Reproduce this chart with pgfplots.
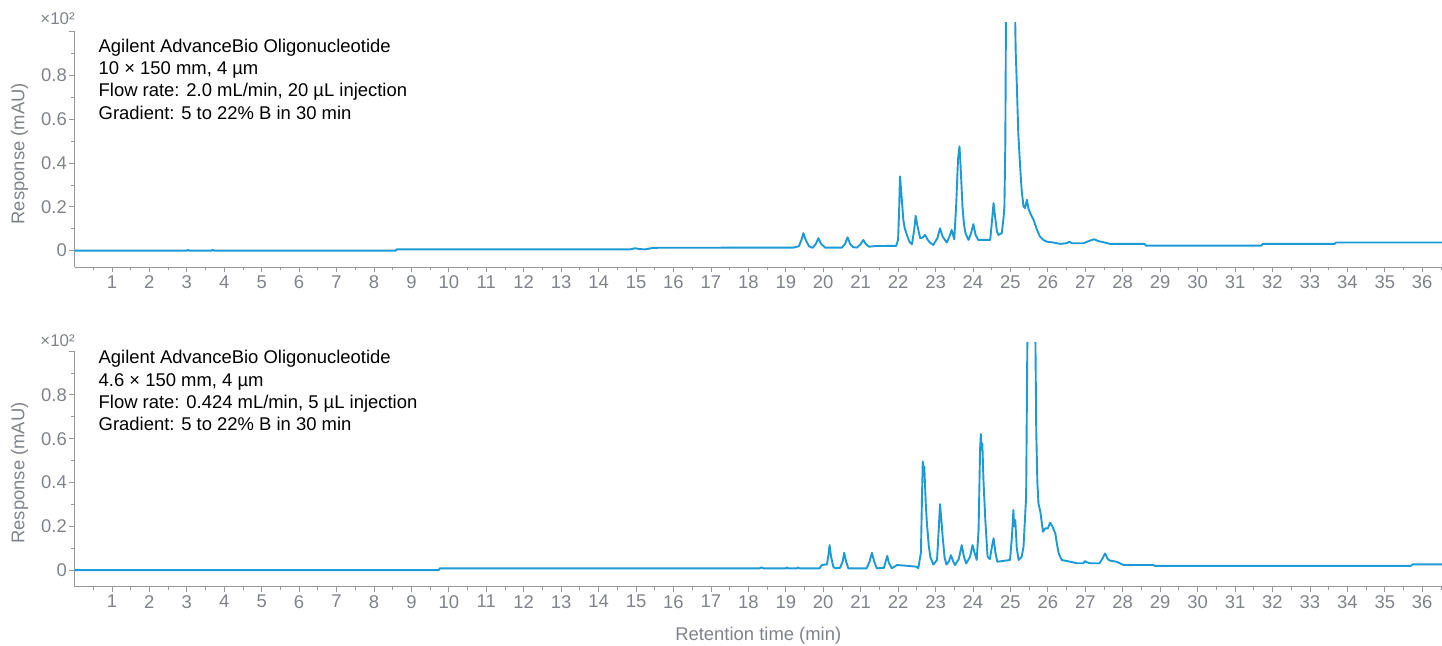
\documentclass[border=0pt]{standalone}
\usepackage{fontspec}
\setmainfont{Liberation Sans}
\usepackage{pgfplots}
\pgfplotsset{compat=1.18}
\definecolor{trace}{RGB}{27,154,214}
\definecolor{axgray}{RGB}{150,152,156}
\definecolor{txtgray}{RGB}{128,131,137}
\pgfplotsset{chrom/.style={
  scale only axis, width=1367.5bp, height=244.4bp,
  xmin=0, xmax=36.53, ymin=-0.076, ymax=1.04,
  axis x line*=bottom, axis y line*=left,
  axis line style={axgray, line width=1.2bp},
  y axis line style={shorten >=8.8bp},
  tick align=outside, tick style={axgray, line width=0.8bp},
  major tick length=5bp, minor tick length=3bp,
  xtick={1,...,36}, minor xtick={0.5,1.5,...,36.5},
  ytick={0,0.2,0.4,0.6,0.8,1.0}, yticklabels={0,0.2,0.4,0.6,0.8,{}},
  minor ytick={0.1,0.3,0.5,0.7,0.9},
  /pgf/number format/assume math mode=true,
  ticklabel style={font=\fontsize{18.5}{22}\selectfont, text=txtgray},
  yticklabel style={inner xsep=2.5bp},
  label style={font=\fontsize{18.5}{22}\selectfont, text=txtgray},
  ylabel={Response (mAU)},
  ylabel style={at={(axis description cs:-0.0402,0.465)}, anchor=center},
}}
\tikzset{tr/.style={trace, line width=1.9bp, line join=round, mark=none}}
\newcommand{\annfont}{\fontsize{18.5}{22.3}\selectfont}
\newcommand{\expfont}{\fontsize{17}{19}\selectfont}
\begin{document}
\begin{tikzpicture}
\useasboundingbox (0,0) rectangle (1442bp,646bp);
% ---------------- top panel ----------------
\begin{axis}[chrom, at={(74.5bp,378.7bp)}, anchor=south west]
\addplot[tr] table {
0 0
3.0 0
3.03 0.004
3.06 0
3.66 0
3.69 0.004
3.72 0
8.58 0
8.61 0.006
14.85 0.006
14.97 0.011
15.1 0.007
15.25 0.006
15.4 0.011
15.5 0.013
19.2 0.014
19.35 0.02
19.42 0.05
19.47 0.08
19.53 0.05
19.62 0.02
19.72 0.013
19.8 0.03
19.87 0.057
19.95 0.03
20.05 0.014
20.5 0.014
20.58 0.03
20.65 0.061
20.72 0.03
20.8 0.016
20.9 0.014
21.0 0.03
21.07 0.049
21.14 0.03
21.22 0.018
21.4 0.021
21.95 0.022
22.0 0.05
22.03 0.2
22.05 0.339
22.075 0.29
22.10 0.232
22.14 0.14
22.18 0.10
22.23 0.075
22.28 0.05
22.32 0.037
22.37 0.029
22.43 0.095
22.47 0.159
22.52 0.11
22.59 0.057
22.66 0.06
22.72 0.072
22.79 0.05
22.85 0.037
22.94 0.026
23.05 0.057
23.12 0.102
23.19 0.064
23.30 0.037
23.37 0.064
23.43 0.095
23.50 0.052
23.55 0.201
23.60 0.415
23.64 0.476
23.67 0.384
23.72 0.201
23.76 0.12
23.80 0.08
23.88 0.049
23.95 0.080
24.01 0.121
24.07 0.072
24.14 0.049
24.46 0.049
24.51 0.140
24.55 0.217
24.59 0.156
24.64 0.087
24.68 0.072
24.77 0.080
24.82 0.156
24.84 0.201
24.865 0.5
24.885 1.2
25.0 2.2
25.115 1.2
25.14 0.918
25.17 0.766
25.21 0.537
25.26 0.384
25.30 0.277
25.35 0.201
25.39 0.194
25.44 0.232
25.48 0.194
25.53 0.171
25.62 0.140
25.71 0.095
25.79 0.064
25.88 0.049
25.97 0.041
26.15 0.037
26.33 0.031
26.51 0.034
26.57 0.041
26.64 0.034
26.95 0.034
27.13 0.046
27.24 0.052
27.36 0.043
27.45 0.040
27.66 0.031
28.58 0.031
28.62 0.023
31.70 0.023
31.74 0.031
33.66 0.031
33.70 0.037
36.60 0.037
};
\end{axis}
% ---------------- bottom panel ----------------
\begin{axis}[chrom, at={(74.5bp,59.3bp)}, anchor=south west,
  xlabel={Retention time (min)},
  xlabel style={at={(axis description cs:0.5,-0.222)}, anchor=base}]
\addplot[tr] table {
0 0
9.73 0
9.76 0.008
18.30 0.008
18.35 0.012
18.40 0.008
19.00 0.008
19.03 0.012
19.06 0.008
19.30 0.008
19.33 0.012
19.36 0.008
19.90 0.008
19.96 0.023
20.10 0.026
20.14 0.07
20.17 0.114
20.21 0.06
20.27 0.015
20.32 0.008
20.45 0.010
20.52 0.04
20.56 0.079
20.61 0.04
20.67 0.008
21.16 0.008
21.24 0.04
21.30 0.079
21.36 0.04
21.43 0.008
21.62 0.010
21.67 0.04
21.71 0.065
21.75 0.035
21.83 0.008
21.90 0.015
21.97 0.023
22.20 0.020
22.50 0.015
22.54 0.008
22.61 0.08
22.64 0.35
22.66 0.495
22.68 0.45
22.70 0.472
22.74 0.30
22.77 0.213
22.82 0.11
22.86 0.061
22.94 0.025
23.04 0.046
23.09 0.2
23.12 0.301
23.16 0.22
23.19 0.152
23.24 0.06
23.29 0.025
23.36 0.04
23.41 0.068
23.47 0.04
23.52 0.023
23.62 0.05
23.70 0.114
23.76 0.06
23.82 0.030
23.92 0.06
23.99 0.114
24.04 0.08
24.10 0.046
24.15 0.183
24.19 0.55
24.21 0.621
24.23 0.55
24.25 0.578
24.28 0.411
24.33 0.228
24.39 0.061
24.45 0.05
24.51 0.11
24.55 0.145
24.60 0.08
24.65 0.038
24.99 0.046
25.04 0.15
25.08 0.274
25.10 0.2
25.13 0.228
25.17 0.1
25.22 0.046
25.30 0.06
25.35 0.106
25.42 0.335
25.46 1.2
25.56 2.2
25.66 1.2
25.69 0.639
25.72 0.4
25.75 0.304
25.80 0.266
25.87 0.175
25.93 0.19
26.00 0.19
26.06 0.216
26.12 0.20
26.20 0.167
26.24 0.122
26.29 0.076
26.37 0.046
26.60 0.038
26.78 0.031
26.95 0.031
26.99 0.041
27.05 0.035
27.13 0.031
27.38 0.031
27.45 0.05
27.53 0.076
27.60 0.05
27.66 0.043
27.84 0.038
28.02 0.023
28.82 0.023
28.86 0.019
35.70 0.019
35.74 0.026
36.60 0.026
};
\end{axis}
% ---------------- texts ----------------
\node[anchor=base east, inner sep=0pt, font=\expfont, text=txtgray] at (75bp,621bp) {×10²};
\node[anchor=base east, inner sep=0pt, font=\expfont, text=txtgray] at (75bp,299.3bp) {×10²};
\begin{scope}[every node/.style={anchor=base west, inner sep=0pt, font=\annfont}]
\node at (98.5bp,593.7bp) {Agilent AdvanceBio Oligonucleotide};
\node at (98.5bp,571.4bp) {10 × 150 mm, 4 µm};
\node at (98.5bp,549.1bp) {Flow rate: 2.0 mL/min, 20 µL injection};
\node at (98.5bp,526.8bp) {Gradient: 5 to 22\% B in 30 min};
\node at (98.5bp,282bp) {Agilent AdvanceBio Oligonucleotide};
\node at (98.5bp,259.8bp) {4.6 × 150 mm, 4 µm};
\node at (98.5bp,237.6bp) {Flow rate: 0.424 mL/min, 5 µL injection};
\node at (98.5bp,215.4bp) {Gradient: 5 to 22\% B in 30 min};
\end{scope}
\end{tikzpicture}
\end{document}
